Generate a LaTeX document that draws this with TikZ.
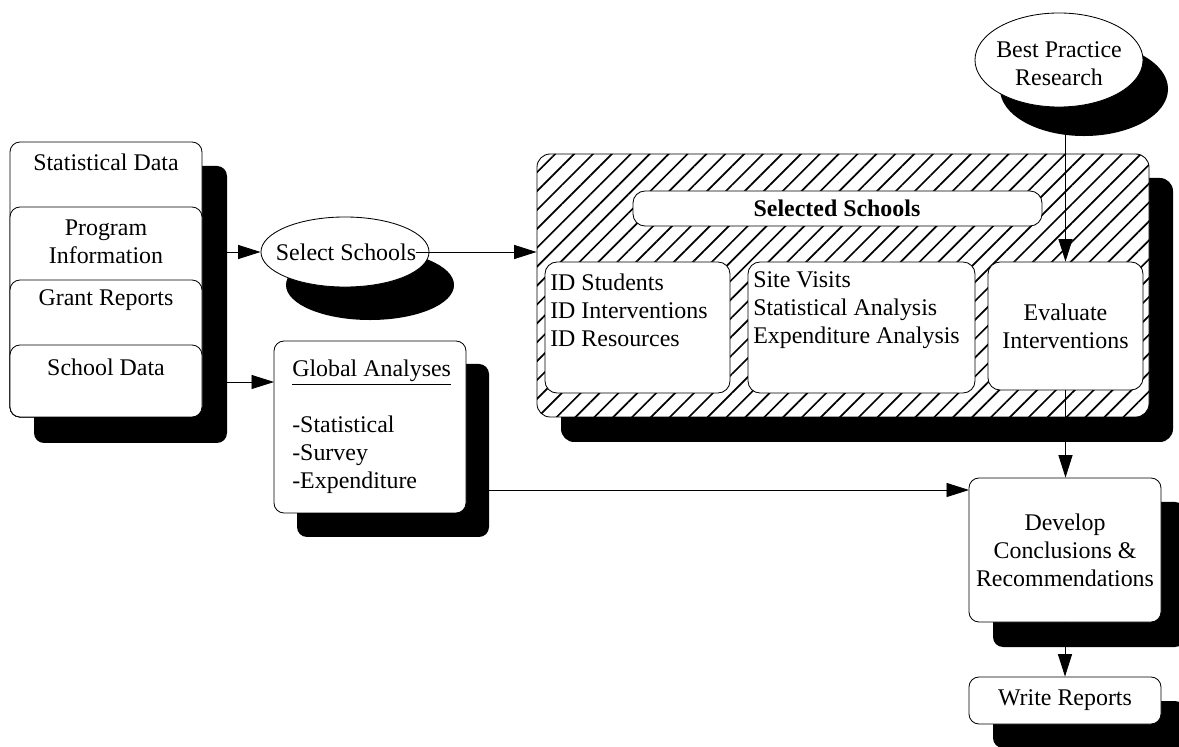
\documentclass[tikz,border=0pt]{standalone}
\usepackage{fontspec}
\setmainfont{Liberation Serif}
\usetikzlibrary{arrows.meta,shapes.geometric,fit,patterns.meta}
\tikzset{
  box/.style={draw, line width=0.6pt, fill=white, rounded corners=0.25cm, inner sep=0pt},
  ibox/.style={draw, line width=0.6pt, fill=white, rounded corners=0.3cm, inner sep=0pt},
  shad/.style={fill=black, rounded corners=0.25cm, inner sep=0pt},
  hatchbox/.style={draw, line width=0.6pt, fill=white, rounded corners=0.33cm, inner sep=0pt,
    postaction={pattern={Lines[angle=45,distance=9.5pt,line width=1.2pt]}}},
  ell/.style={ellipse, draw, line width=0.6pt, fill=white, inner sep=0pt, align=center},
  shell/.style={ellipse, fill=black, inner sep=0pt},
  txt/.style={inner sep=0pt, align=center},
  arr/.style={line width=0.6pt, -{Triangle[length=16pt,width=10pt]}},
}
\begin{document}
\begin{tikzpicture}[x=0.025cm, y=-0.025cm, font=\fontsize{17}{19.9}\selectfont]
\clip (0,0) rectangle (1179,747);
% shadows
\node[shad, fit={(34,166)(227,443)}] (stackS) {};
\node[shell, minimum width=4.2cm, minimum height=1.75cm] (selS) at (370,285) {};
\node[shad, fit={(297,364)(489,537)}] (gaS) {};
\node[shad, rounded corners=0.33cm, fit={(561,178)(1173,442)}] (hsS) {};
\node[shell, minimum width=4.2cm, minimum height=2.35cm] (bpS) at (1084,89) {};
\node[shad, fit={(993,502)(1185,647)}] (devS) {};
\node[shad, fit={(993,701)(1185,748)}] (wrS) {};
% left stack
\node[box, fit={(10,142)(202,417)}] (stat) {};
\node[box, fit={(10,207)(202,417)}] (prog) {};
\node[box, fit={(10,280)(202,417)}] (grant) {};
\node[box, fit={(10,345)(202,417)}] (school) {};
\node[txt] (statT) at (106,162) {Statistical Data};
\node[txt] (progT) at (106,242) {Program\\Information};
\node[txt] (grantT) at (106,300) {Grant Reports};
\node[txt] (schoolT) at (106,367) {School Data};
% select schools
\node[ell, minimum width=4.2cm, minimum height=1.75cm] (sel) at (345,252) {};
\node[txt] (selT) at (346,252) {Select Schools};
% global analyses
\node[box, fit={(274,341)(466,513)}] (ga) {};
\node[inner sep=0pt, align=left, anchor=west] (gaT) at (292,427)
  {\underline{Global Analyses}\\[19.9pt]-Statistical\\-Survey\\-Expenditure};
% hatched selected schools
\node[hatchbox, fit={(537,154)(1149,417)}] (hs) {};
\node[ibox, fit={(633,191)(1042,226)}] (bar) {};
\node[txt, font=\fontsize{17}{19.9}\selectfont\bfseries] (barT) at (837,208) {Selected Schools};
\node[ibox, fit={(545,262)(730,393)}] (b1) {};
\node[ibox, fit={(748,262)(975,393)}] (b2) {};
\node[ibox, fit={(988,262)(1143,390)}] (ev) {};
\node[inner sep=0pt, align=left, anchor=west] (b1T) at (550,310) {ID Students\\ID Interventions\\ID Resources};
\node[inner sep=0pt, align=left, anchor=west] (b2T) at (753,310) {Site Visits\\Statistical Analysis\\Expenditure Analysis};
\node[txt] (evT) at (1065.5,326) {Evaluate\\Interventions};
% best practice
\node[ell, minimum width=4.2cm, minimum height=2.35cm] (bp) at (1059,60) {};
\node[txt] (bpT) at (1059,64) {Best Practice\\Research};
% develop and write
\node[box, fit={(969,478)(1161,622)}] (dev) {};
\node[txt] (devT) at (1065,550) {Develop\\Conclusions \&\\Recommendations};
\node[box, fit={(969,677)(1161,724)}] (wr) {};
\node[txt] (wrT) at (1065,700) {Write Reports};
% connectors
\draw[arr] (sel.west -| stackS.east) -- (sel.west);
\coordinate (gaIn) at (274,382);
\draw[arr] (gaIn -| stackS.east) -- (gaIn);
\draw[arr] (selT.east) -- (selT.east -| hs.west);
\draw[arr] (bp.south -| ev.north) -- (ev.north);
\draw[arr] (ev.south) -- (ev.south |- dev.north);
\coordinate (devIn) at (969,490);
\draw[arr] (devIn -| gaS.east) -- (devIn);
\draw[arr] (dev.south) -- (wr.north);
\end{tikzpicture}
\end{document}
